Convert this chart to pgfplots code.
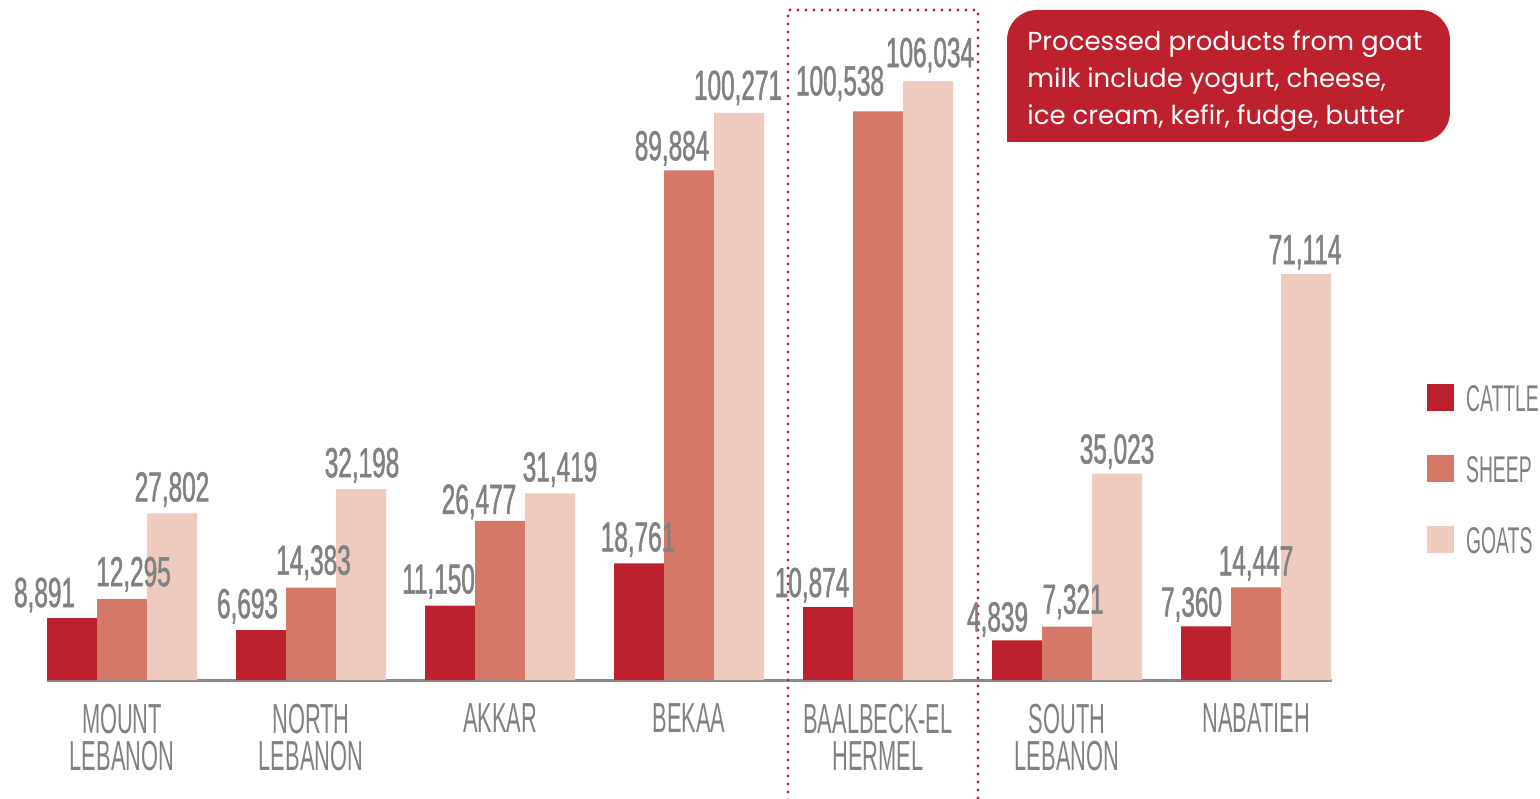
\documentclass[border=0pt]{standalone}
\usepackage{pgfplots}
\usepackage{pgfplotstable}
\pgfplotsset{compat=1.18}
\usepackage{fontspec}
\setmainfont{Liberation Sans}
\newfontfamily\valfont[FakeStretch=0.58,FakeBold=1.2]{Liberation Sans}
\newfontfamily\catfont[FakeStretch=0.52]{Liberation Sans}
\newfontfamily\notefont{Poppins}

\definecolor{cattle}{HTML}{BE212E}
\definecolor{sheep}{HTML}{D57868}
\definecolor{goats}{HTML}{EECABF}
\definecolor{txtgray}{HTML}{808185}
\definecolor{axgray}{HTML}{8A8A8C}

% values per region; *l = printed label, *dx/*dy = label offsets (pt)
\pgfplotstableread{
x c      s      g      cl      sl      gl      cdx    cdy  sdx   sdy  gdx  gdy
0 8891   12295  27802  8,891   12,295  27,802  -13.75 5.5  5.75  6.5  0    6
1 6693   14383  32198  6,693   14,383  32,198  -6.75  6    1.25  6.5  0.5  6
2 11150  26477  31419  11,150  26,477  31,419  -5.75  6    -10.5 3.5  5    6
3 18761  89884  100271 18,761  89,884  100,271 -0.5   6    -8.5  5    -0.5 6.5
4 10874  100538 106034 10,874  100,538 106,034 -8     5    -19   8    1    7
5 4839   7321   35023  4,839   7,321   35,023  -9.75  4.5  3     6.5  0    5
6 7360   14447  71114  7,360   14,447  71,114  -7.25  5    0     6    -0.5 5
}\data

\begin{document}
\begin{tikzpicture}
\useasboundingbox (-23.5pt,-59pt) rectangle (746.5pt,340pt);
\begin{axis}[
    at={(0,0)}, anchor=south west,
    scale only axis, width=642.5pt, height=340pt,
    ybar=0pt, bar width=25pt,
    xmin=-0.397, xmax=6.402,
    ymin=-2325, ymax=120687,
    y coord trafo/.code={\edef\pgfmathresult{\fpeval{#1+2325}}},
    y coord inv trafo/.code={\edef\pgfmathresult{\fpeval{#1-2325}}},
    axis x line=bottom, axis y line=none,
    x axis line style={-, line width=1.5pt, draw=axgray},
    xtick=data, ytick=\empty,
    xticklabels={MOUNT\\LEBANON, NORTH\\LEBANON, AKKAR, BEKAA, BAALBECK-EL\\HERMEL, SOUTH\\LEBANON, NABATIEH},
    xtick style={draw=none},
    xticklabel shift=9.5pt,
    xticklabel style={align=center, inner sep=0pt, text=txtgray,
        font=\catfont\fontsize{21}{18.5}\selectfont},
    nodes near coords, point meta=explicit symbolic,
    every node near coord/.append style={font=\valfont\fontsize{21}{21}\selectfont,
        text=txtgray, anchor=base, inner sep=0pt},
    clip=false,
    legend image code/.code={\fill[#1] (0pt,-5.5pt) rectangle (13.5pt,8pt);},
    legend cell align=left,
    legend style={draw=none, fill=none, at={(1.074,0.436)}, anchor=north west,
        inner sep=0pt, outer sep=0pt, row sep=20.5pt, text=txtgray,
        font=\catfont\fontsize{18.6}{18.6}\selectfont,
        nodes={inner sep=0pt},
        /tikz/every odd column/.append style={column sep=6pt}},
]
\addplot[fill=cattle, draw=none,
    visualization depends on={\thisrow{cdx}\as\dx},
    visualization depends on={\thisrow{cdy}\as\dy},
    every node near coord/.append style={xshift=\dx pt, yshift=\dy pt}]
    table[x=x, y=c, meta=cl] {\data};
\addplot[fill=sheep, draw=none,
    visualization depends on={\thisrow{sdx}\as\dx},
    visualization depends on={\thisrow{sdy}\as\dy},
    every node near coord/.append style={xshift=\dx pt, yshift=\dy pt}]
    table[x=x, y=s, meta=sl] {\data};
\addplot[fill=goats, draw=none,
    visualization depends on={\thisrow{gdx}\as\dx},
    visualization depends on={\thisrow{gdy}\as\dy},
    every node near coord/.append style={xshift=\dx pt, yshift=\dy pt}]
    table[x=x, y=g, meta=gl] {\data};
\legend{CATTLE, SHEEP, GOATS}

% dotted frame around Baalbeck-El Hermel
\draw[cattle, line width=1.6pt, line cap=round, dash pattern=on 0pt off 4pt]
    (rel axis cs:0.5767,-0.2) -- (rel axis cs:0.5767,0.9853)
    -- (rel axis cs:0.7245,0.9853) -- (rel axis cs:0.7245,-0.2);

% note box
\fill[cattle, rounded corners=15pt] (rel axis cs:0.7471,0.7912) rectangle (rel axis cs:1.0918,0.9853);
\fill[cattle] (rel axis cs:0.7471,0.7912) rectangle ++(20pt,20pt);
\node[anchor=north west, align=left, text=white, inner sep=0pt,
      font=\notefont\fontsize{13}{18.5}\selectfont]
    at ([xshift=10pt,yshift=-10pt]rel axis cs:0.7471,0.9853)
    {Processed products from goat\\milk include yogurt, cheese,\\ice cream, kefir, fudge, butter};
\end{axis}
\end{tikzpicture}
\end{document}
